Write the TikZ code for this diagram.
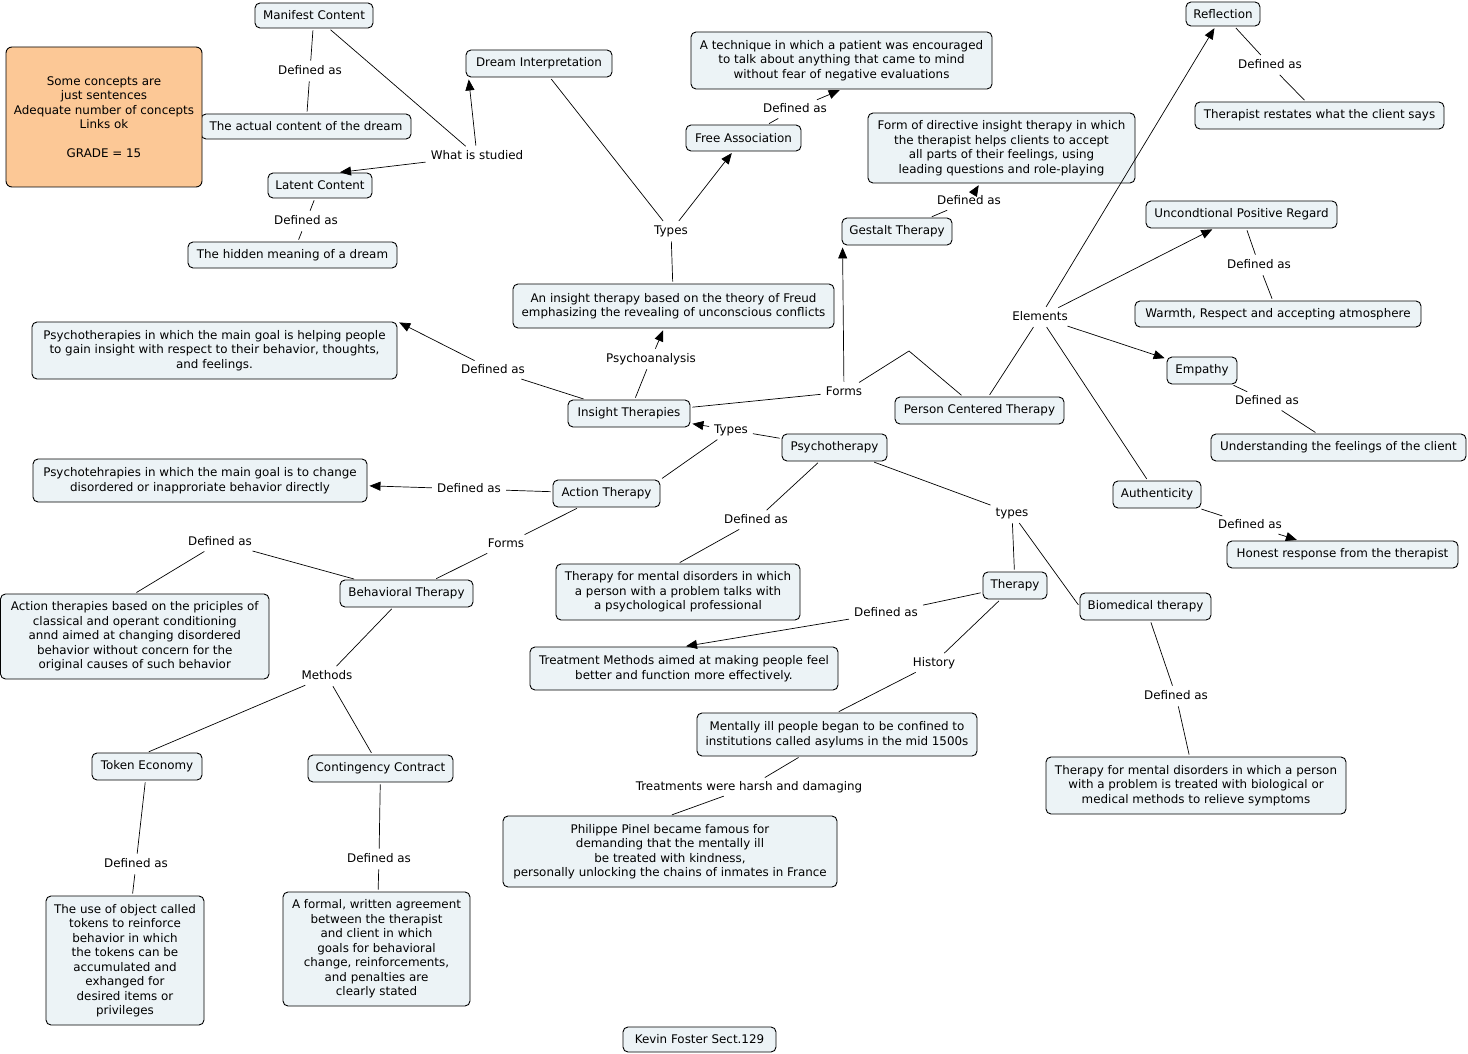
\documentclass[tikz,border=0pt]{standalone}
\usepackage{fontspec}
\setmainfont{DejaVu Sans}
\usetikzlibrary{arrows.meta}
\definecolor{cfill}{RGB}{236,243,246}
\definecolor{gfill}{RGB}{252,200,150}
\newcommand{\cmf}{\fontsize{11.9}{14.5}\selectfont}
\tikzset{
  concept/.style={draw=black, line width=0.9pt, rounded corners=5pt, fill=cfill, font=\cmf, align=center, inner sep=0pt},
  lbl/.style={font=\cmf, inner xsep=3pt, inner ysep=2.5pt, text height=9pt, text depth=2.5pt},
  link/.style={line width=0.7pt, shorten <=2pt, shorten >=2pt},
  arr/.style={link, -{Triangle[length=11pt,width=9pt]}},
}
\newcommand{\cbox}[6]{\node[concept, minimum width={#4-#2}, minimum height={#5-#3}] (#1) at ({(#2+#4)/2},{(#3+#5)/2}) {#6};}
\begin{document}
\begin{tikzpicture}[x=1pt,y=-1pt]
\useasboundingbox (0,0) rectangle (1468,1054);
% concepts
\cbox{manifest}{255}{3}{373}{28}{Manifest Content}
\cbox{actual}{201}{114}{411}{139}{The actual content of the dream}
\cbox{latent}{268}{173}{372}{198}{Latent Content}
\cbox{hidden}{188}{242}{397}{268}{The hidden meaning of a dream}
\cbox{dreamint}{466}{50}{612}{77}{Dream Interpretation}
\cbox{technique}{691}{32}{992}{89}{A technique in which a patient was encouraged\\to talk about anything that came to mind\\without fear of negative evaluations}
\cbox{freeassoc}{686}{125}{801}{151}{Free Association}
\cbox{gestaltdef}{868}{113}{1135}{183}{Form of directive insight therapy in which\\the therapist helps clients to accept\\all parts of their feelings, using\\leading questions and role-playing}
\cbox{gestalt}{842}{218}{952}{245}{Gestalt Therapy}
\cbox{reflection}{1186}{2}{1260}{26}{Reflection}
\cbox{restates}{1195}{102}{1444}{129}{Therapist restates what the client says}
\cbox{upr}{1146}{201}{1337}{228}{Uncondtional Positive Regard}
\cbox{warmth}{1135}{301}{1421}{327}{Warmth, Respect and accepting atmosphere}
\cbox{empathy}{1167}{357}{1237}{384}{Empathy}
\cbox{understanding}{1211}{434}{1466}{461}{Understanding the feelings of the client}
\cbox{authenticity}{1113}{481}{1201}{508}{Authenticity}
\cbox{honest}{1227}{541}{1458}{568}{Honest response from the therapist}
\cbox{pc}{895}{397}{1064}{424}{Person Centered Therapy}
\cbox{freud}{513}{284}{834}{328}{An insight therapy based on the theory of Freud\\emphasizing the revealing of unconscious conflicts}
\cbox{insdef}{32}{322}{397}{379}{Psychotherapies in which the main goal is helping people\\to gain insight with respect to their behavior, thoughts,\\and feelings.}
\cbox{insight}{568}{400}{690}{427}{Insight Therapies}
\cbox{psy}{782}{434}{887}{461}{Psychotherapy}
\cbox{actdef}{33}{459}{367}{502}{Psychotehrapies in which the main goal is to change\\disordered or inapproriate behavior directly}
\cbox{action}{553}{480}{660}{507}{Action Therapy}
\cbox{behav}{340}{580}{473}{607}{Behavioral Therapy}
\cbox{behdef}{0.5}{594}{269}{679}{Action therapies based on the priciples of\\classical and operant conditioning\\annd aimed at changing disordered\\behavior without concern for the\\original causes of such behavior}
\cbox{talkdef}{556}{564}{800}{620}{Therapy for mental disorders in which\\a person with a problem talks with\\a psychological professional}
\cbox{therapy}{983}{572}{1047}{599}{Therapy}
\cbox{bio}{1080}{593}{1211}{620}{Biomedical therapy}
\cbox{treat}{530}{647}{838}{690}{Treatment Methods aimed at making people feel\\better and function more effectively.}
\cbox{ment}{697}{713}{977}{756}{Mentally ill people began to be confined to\\institutions called asylums in the mid 1500s}
\cbox{pinel}{503}{816}{837}{887}{Philippe Pinel became famous for\\demanding that the mentally ill\\be treated with kindness,\\personally unlocking the chains of inmates in France}
\cbox{biodef}{1046}{757}{1346}{814}{Therapy for mental disorders in which a person\\with a problem is treated with biological or\\medical methods to relieve symptoms}
\cbox{token}{92}{753}{202}{780}{Token Economy}
\cbox{cont}{308}{755}{453}{782}{Contingency Contract}
\cbox{tokdef}{46}{896}{204}{1025}{The use of object called\\tokens to reinforce\\behavior in which\\the tokens can be\\accumulated and\\exhanged for\\desired items or\\privileges}
\cbox{contdef}{283}{892}{470}{1006}{A formal, written agreement\\between the therapist\\and client in which\\goals for behavioral\\change, reinforcements,\\and penalties are\\clearly stated}
\cbox{kevin}{623}{1027}{776}{1052}{Kevin Foster Sect.129}
\node[concept, fill=gfill, rounded corners=6pt, minimum width=196, minimum height=140] (grade) at (104,117) {Some concepts are\\just sentences\\Adequate number of concepts\\Links ok\\[14.5pt]GRADE = 15};
% link labels
\node[lbl] (L1) at (310,71) {Defined as};
\node[lbl] (L2) at (477,156) {What is studied};
\node[lbl] (L3) at (306,221) {Defined as};
\node[lbl] (L4) at (671,231) {Types};
\node[lbl] (L5) at (795,109) {Defined as};
\node[lbl] (L6) at (969,201) {Defined as};
\node[lbl] (L7) at (1270,65) {Defined as};
\node[lbl] (L8) at (1040,317) {Elements};
\node[lbl] (L9) at (1259,265) {Defined as};
\node[lbl] (L10) at (1267,401) {Defined as};
\node[lbl] (L11) at (1250,525) {Defined as};
\node[lbl] (L12) at (651,359) {Psychoanalysis};
\node[lbl] (L13) at (493,370) {Defined as};
\node[lbl] (L14) at (844,392) {Forms};
\node[lbl] (L15) at (731,430) {Types};
\node[lbl] (L16) at (469,489) {Defined as};
\node[lbl] (L17) at (506,544) {Forms};
\node[lbl] (L18) at (220,542) {Defined as};
\node[lbl] (L19) at (327,676) {Methods};
\node[lbl] (L20) at (136,864) {Defined as};
\node[lbl] (L21) at (379,859) {Defined as};
\node[lbl] (L22) at (756,520) {Defined as};
\node[lbl] (L23) at (1012,513) {types};
\node[lbl] (L24) at (886,613) {Defined as};
\node[lbl] (L25) at (934,663) {History};
\node[lbl] (L26) at (749,787) {Treatments were harsh and damaging};
\node[lbl] (L27) at (1176,696) {Defined as};
\coordinate (bend) at (909,351);
% connectors
\draw[link] (manifest) -- (L1); \draw[link] (L1) -- (actual);
\draw[link] (manifest) -- (L2);
\draw[arr] (L2) -- ([xshift=3pt]dreamint.south west);
\draw[arr] (L2) -- ([xshift=18pt]latent.north);
\draw[link] (latent) -- (L3); \draw[link] (L3) -- (hidden);
\draw[link] (dreamint) -- (L4); \draw[arr] (L4) -- (freeassoc); \draw[link] (freud) -- (L4);
\draw[link] (freeassoc) -- (L5); \draw[arr] (L5) -- (technique.south);
\draw[link] (gestalt) -- (L6); \draw[arr] (L6) -- (gestaltdef);
\draw[link] (reflection) -- (L7); \draw[link] (L7) -- (restates);
\draw[link] (pc) -- (L8);
\draw[arr] (L8) -- (reflection); \draw[arr] (L8) -- (upr); \draw[arr] (L8) -- (empathy);
\draw[link] (L8) -- (authenticity);
\draw[link] (upr) -- (L9); \draw[link] (L9) -- (warmth);
\draw[link] (empathy) -- (L10); \draw[link] (L10) -- (understanding);
\draw[link] (authenticity) -- (L11); \draw[arr] (L11) -- (honest);
\draw[link] (insight) -- (L12); \draw[arr] (L12) -- (freud);
\draw[link] (insight) -- (L13); \draw[arr] (L13) -- (insdef.north east);
\draw[link] (insight) -- (L14); \draw[arr] (L14) -- ([xshift=1pt]gestalt.south west);
\draw[link] (L14) -- (bend) -- (pc);
\draw[link] (psy) -- (L15); \draw[arr] (L15) -- (insight); \draw[link] (action.north east) -- (L15);
\draw[link] (action) -- (L16); \draw[arr] (L16) -- (actdef);
\draw[link] (action) -- (L17); \draw[link] (L17) -- (behav);
\draw[link] (behav) -- (L18); \draw[link] (L18) -- (behdef.north);
\draw[link] (behav) -- (L19); \draw[link] (L19) -- (token.north); \draw[link] (L19) -- (cont);
\draw[link] (token) -- (L20); \draw[link] (L20) -- (tokdef);
\draw[link] (cont) -- (L21); \draw[link] (L21) -- (contdef);
\draw[link] (psy) -- (L22); \draw[link] (L22) -- (talkdef.north);
\draw[link] (psy) -- (L23); \draw[link] (L23) -- (therapy); \draw[link] (L23) -- (bio.west);
\draw[link] (therapy) -- (L24); \draw[arr] (L24) -- (treat.north);
\draw[link] (therapy) -- (L25); \draw[link] (L25) -- (ment.north);
\draw[link] (ment) -- (L26); \draw[link] (L26) -- (pinel.north);
\draw[link] (bio) -- (L27); \draw[link] (L27) -- (biodef);
\end{tikzpicture}
\end{document}
